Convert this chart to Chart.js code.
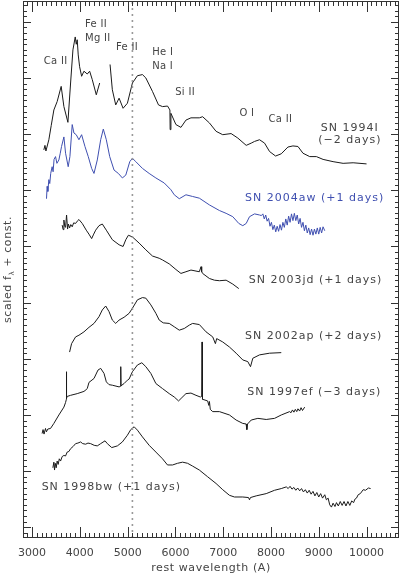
<!DOCTYPE html>
<html>
<head>
<meta charset="utf-8">
<script src="https://cdn.jsdelivr.net/npm/chart.js@4.4.0/dist/chart.umd.min.js"></script>
<style>
  html, body { margin: 0; padding: 0; background: #fff; }
  #wrap { width: 400px; height: 575px; }
</style>
</head>
<body>
<div id="wrap"><canvas id="theChart" width="400" height="575"></canvas></div>
<script>
// ---- spectra (rest wavelength in A, scaled flux + offset) ----
const sn1994iWave = [3246, 3270, 3290, 3351, 3400, 3456, 3525, 3609, 3666, 3750, 3806, 3855, 3903, 3925, 3945, 3966, 3995, 4037, 4086, 4155, 4205, 4260, 4344, 4415,
  4520,
  4632, 4680, 4751, 4821, 4905, 4995, 5100, 5205, 5310, 5381, 5520, 5646, 5730, 5835, 5885, 5890, 5906, 6011, 6116, 6221, 6326, 6501, 6570, 6711, 6851, 6990,
  7166, 7306, 7482, 7587, 7656, 7761, 7866, 7971, 8097, 8216, 8355, 8460, 8565, 8670, 8811, 8951, 9091, 9300, 9510, 9720, 10001];
const sn1994iFlux = [6.72, 6.80, 6.70, 6.90, 7.15, 7.43, 7.58, 7.85, 7.49, 7.21, 7.91, 8.50, 8.73, 8.60, 8.68, 8.41, 8.20, 8.03, 8.12, 8.07, 8.12, 7.97, 7.70, 7.91,
  null,
  8.24, 7.79, 7.52, 7.64, 7.46, 7.55, 7.91, 8.04, 8.06, 8.00, 7.76, 7.52, 7.49, 7.50, 7.43, 7.08, 7.37, 7.17, 7.12, 7.25, 7.29, 7.29, 7.31, 7.20, 7.05, 6.99,
  7.01, 6.93, 6.80, 6.84, 6.87, 6.90, 6.84, 6.69, 6.61, 6.65, 6.77, 6.79, 6.78, 6.66, 6.60, 6.60, 6.55, 6.51, 6.48, 6.49, 6.47];

const sn2004awWave = [3302, 3315, 3330, 3351, 3370, 3390, 3420, 3440, 3460, 3491, 3520, 3561, 3590, 3617, 3666, 3701, 3756, 3792, 3840, 3876, 3924, 3981, 4037,
  4107, 4176, 4247, 4296, 4365, 4436, 4491, 4554, 4625, 4716, 4806, 4890, 4961, 5045, 5100, 5171, 5310, 5451, 5591, 5766, 5906, 5976, 6081, 6221, 6360, 6501,
  6711, 6921, 7061, 7201, 7327, 7410, 7482, 7551, 7656, 7761, 7800,
  7830, 7860, 7890, 7920, 7950, 7980, 8010, 8040, 8070, 8100, 8130, 8160, 8190, 8220, 8250, 8280, 8310, 8340, 8370, 8400, 8430, 8460, 8490, 8520, 8550,
  8580, 8610, 8640, 8670, 8700, 8730, 8760, 8790, 8820, 8850, 8880, 8910, 8940, 8970, 9000, 9030, 9060, 9090, 9126];
const sn2004awFlux = [5.85, 6.07, 5.98, 6.19, 6.12, 6.30, 6.42, 6.33, 6.55, 6.60, 6.48, 6.54, 6.66, 6.78, 6.95, 6.66, 6.42, 6.60, 7.17, 7.02, 6.99, 6.90, 6.99,
  6.78, 6.60, 6.39, 6.30, 6.54, 6.90, 7.09, 6.90, 6.60, 6.36, 6.30, 6.22, 6.27, 6.51, 6.57, 6.51, 6.39, 6.30, 6.22, 6.13, 6.01, 5.92, 5.85, 5.92, 5.89, 5.86,
  5.74, 5.64, 5.59, 5.53, 5.41, 5.37, 5.41, 5.53, 5.58, 5.56, 5.55,
  5.58, 5.49, 5.56, 5.45, 5.50, 5.36, 5.43, 5.30, 5.38, 5.26, 5.36, 5.27, 5.39, 5.29, 5.43, 5.34, 5.49, 5.38, 5.54, 5.43, 5.58, 5.46, 5.59, 5.46, 5.56,
  5.40, 5.50, 5.34, 5.43, 5.28, 5.38, 5.24, 5.33, 5.21, 5.31, 5.20, 5.31, 5.22, 5.33, 5.22, 5.34, 5.24, 5.35, 5.28];

const sn2003jdWave = [3630, 3650, 3666, 3685, 3701, 3722, 3743, 3760, 3785, 3810, 3840, 3870, 3911, 3945, 3981, 4050, 4134, 4190, 4247, 4290, 4331, 4401, 4470,
  4554, 4680, 4821, 4905, 4961, 5016, 5100, 5241, 5381, 5520, 5661, 5730, 5871, 6011, 6116, 6221, 6326, 6501, 6536, 6550, 6570, 6711, 6816, 6921, 7061, 7201, 7327];
const sn2003jdFlux = [5.38, 5.30, 5.47, 5.36, 5.34, 5.56, 5.31, 5.40, 5.33, 5.39, 5.35, 5.42, 5.41, 5.45, 5.48, 5.41, 5.29, 5.22, 5.14, 5.22, 5.29, 5.37, 5.40,
  5.29, 5.12, 5.03, 5.00, 5.12, 5.20, 5.17, 5.06, 4.94, 4.83, 4.79, 4.76, 4.69, 4.59, 4.52, 4.55, 4.58, 4.55, 4.64, 4.55, 4.52, 4.43, 4.40, 4.39, 4.40, 4.33, 4.25];

const sn2002apWave = [3785, 3827, 3911, 3981, 4086, 4191, 4296, 4401, 4470, 4541, 4611, 4680, 4751, 4821, 4926, 5031, 5100, 5205, 5310, 5381, 5486, 5591, 5661,
  5745, 5871, 5976, 6081, 6186, 6291, 6360, 6501, 6641, 6781, 6837, 6864, 6990, 7131, 7271, 7410, 7515, 7572, 7620, 7761, 7971, 8216];
const sn2002apFlux = [3.12, 3.27, 3.39, 3.42, 3.48, 3.56, 3.63, 3.75, 3.87, 3.94, 3.84, 3.69, 3.63, 3.69, 3.74, 3.81, 3.90, 4.05, 4.09, 4.08, 3.96, 3.81, 3.69,
  3.64, 3.63, 3.57, 3.51, 3.54, 3.60, 3.63, 3.61, 3.48, 3.39, 3.27, 3.36, 3.30, 3.21, 3.10, 2.98, 2.95, 2.86, 3.01, 3.07, 3.10, 3.11];

const sn1997efWave = [3210, 3230, 3250, 3281, 3300, 3330, 3386, 3456, 3561, 3666, 3700, 3718, 3720, 3722, 3735, 3806, 3945, 4086, 4130, 4155, 4191, 4296, 4380,
  4436, 4506, 4554, 4611, 4680, 4821, 4850, 4856, 4862, 4926, 4995, 5031, 5100, 5205, 5297, 5381, 5486, 5591, 5730, 5871, 5976, 6066, 6137, 6221, 6326, 6431,
  6522, 6550, 6557, 6564, 6570, 6675, 6700, 6712, 6730, 6781, 6921, 7131, 7271, 7410, 7480, 7495, 7510, 7587, 7726, 7901, 8076, 8216, 8391,
  8420, 8450, 8480, 8510, 8540, 8565, 8600, 8630, 8660, 8706];
const sn1997efFlux = [1.67, 1.74, 1.66, 1.76, 1.70, 1.75, 1.76, 1.85, 2.00, 2.14, 2.22, 2.28, 2.77, 2.30, 2.33, 2.35, 2.38, 2.42, 2.45, 2.47, 2.58, 2.65, 2.80,
  2.83, 2.74, 2.59, 2.54, 2.53, 2.50, 2.51, 2.86, 2.52, 2.56, 2.62, 2.64, 2.77, 2.89, 2.93, 2.86, 2.74, 2.56, 2.47, 2.38, 2.32, 2.25, 2.31, 2.38, 2.39, 2.35,
  2.32, 2.33, 3.30, 2.30, 2.28, 2.25, 2.17, 2.24, 2.10, 2.06, 2.06, 2.00, 1.91, 1.85, 1.84, 1.74, 1.84, 1.91, 1.94, 1.92, 1.94, 2.00, 2.06,
  2.04, 2.09, 2.05, 2.10, 2.06, 2.11, 2.07, 2.13, 2.08, 2.14];

const sn1998bwWave = [3435, 3456, 3470, 3485, 3505, 3525, 3546, 3570, 3596, 3630, 3666, 3700, 3735, 3770, 3806, 3860, 3911, 3960, 4016, 4060, 4121, 4170, 4226,
  4300, 4365, 4436, 4527, 4575, 4667, 4786, 4890, 4995, 5066, 5136, 5205, 5310, 5451, 5591, 5730, 5835, 5940, 6045, 6150, 6255, 6360, 6501, 6675, 6851, 6990,
  7131, 7236, 7410, 7530, 7551, 7570, 7691, 7901, 8076, 8216,
  8321, 8360, 8400, 8440, 8480, 8520, 8560, 8601, 8640, 8680, 8720, 8760, 8800, 8840, 8880, 8920, 8960, 9000, 9040, 9080, 9126, 9160, 9196, 9230, 9266, 9300,
  9340, 9371, 9410, 9450, 9490, 9530, 9570, 9610, 9651, 9690, 9730, 9756, 9790, 9826, 9870, 9931, 9980, 10040, 10086];
const sn1998bwFlux = [1.06, 1.16, 1.02, 1.14, 1.06, 1.18, 1.12, 1.22, 1.18, 1.26, 1.28, 1.27, 1.34, 1.35, 1.40, 1.44, 1.49, 1.50, 1.52, 1.49, 1.48, 1.50, 1.49,
  1.46, 1.45, 1.49, 1.54, 1.49, 1.42, 1.45, 1.52, 1.64, 1.74, 1.79, 1.73, 1.61, 1.46, 1.34, 1.22, 1.11, 1.11, 1.14, 1.16, 1.14, 1.09, 1.02, 0.90, 0.78, 0.67,
  0.57, 0.54, 0.54, 0.53, 0.49, 0.53, 0.56, 0.60, 0.66, 0.69,
  0.72, 0.69, 0.73, 0.68, 0.71, 0.66, 0.70, 0.65, 0.69, 0.63, 0.67, 0.61, 0.66, 0.59, 0.64, 0.56, 0.62, 0.54, 0.60, 0.52, 0.58, 0.49, 0.52, 0.40, 0.36, 0.43,
  0.37, 0.44, 0.38, 0.46, 0.39, 0.46, 0.38, 0.46, 0.39, 0.47, 0.44, 0.50, 0.52, 0.58, 0.60, 0.67, 0.66, 0.70, 0.69];

// reference wavelength of the dotted line
const refWave = 5100;

// axis ticks
const xTickLabels = [3000, 4000, 5000, 6000, 7000, 8000, 9000, 10000];
const yMajorTicks = [0, 1, 2, 3, 4, 5, 6, 7, 8, 9];

// line identifications on the top spectrum
const lineIds = ['Ca II', 'Fe II', 'Mg II', 'Fe II', 'He I', 'Na I', 'Si II', 'O I', 'Ca II'];
const lineIdWave = [3246, 4107, 4107, 4757, 5513, 5513, 5996, 7340, 7948];
const lineIdFlux = [8.29, 8.95, 8.70, 8.54, 8.45, 8.20, 7.74, 7.36, 7.26];

// object names
const snNames = ['SN 1994I', '(\u22122 days)', 'SN 2004aw (+1 days)', 'SN 2003jd (+1 days)', 'SN 2002ap (+2 days)', 'SN 1997ef (\u22123 days)', 'SN 1998bw (+1 days)'];
const snNameWave = [9650, 9650, 10370, 10330, 10330, 10310, 3200];
const snNameFlux = [7.11, 6.90, 5.86, 4.40, 3.40, 2.41, 0.71];
const snNameAlign = ['center', 'center', 'right', 'right', 'right', 'right', 'left'];

const FONT = '"DejaVu Sans", sans-serif';
const INK = '#444';
const BLUE = '#3f4fb0';

function pts(w, f) { return w.map((x, i) => ({ x, y: f[i] })); }

function spectrum(w, f, color) {
  return {
    data: pts(w, f),
    borderColor: color,
    borderWidth: 1,
    pointRadius: 0,
    tension: 0,
    spanGaps: false,
    fill: false
  };
}

// frame, inward ticks and all text
const framePlugin = {
  id: 'frame',
  afterDraw(chart) {
    const { ctx, chartArea: a } = chart;
    const xs = chart.scales.x, ys = chart.scales.y;
    ctx.save();
    ctx.strokeStyle = '#333';
    ctx.lineWidth = 1;
    ctx.strokeRect(a.left + 0.5, a.top + 0.5, a.right - a.left - 1, a.bottom - a.top - 1);

    ctx.beginPath();
    for (let w = 2900; w <= 10600; w += 100) {
      const px = Math.round(xs.getPixelForValue(w)) + 0.5;
      const len = (w % 1000 === 0) ? 11 : 5;
      ctx.moveTo(px, a.bottom); ctx.lineTo(px, a.bottom - len);
      ctx.moveTo(px, a.top); ctx.lineTo(px, a.top + len);
    }
    for (let k = -1; k <= 93; k++) {
      const py = Math.round(ys.getPixelForValue(k / 10)) + 0.5;
      const len = (k % 10 === 0) ? 8 : 4;
      ctx.moveTo(a.left, py); ctx.lineTo(a.left + len, py);
      ctx.moveTo(a.right, py); ctx.lineTo(a.right - len, py);
    }
    ctx.stroke();

    // tick labels
    ctx.fillStyle = INK;
    ctx.font = '11px ' + FONT;
    ctx.textAlign = 'center';
    ctx.textBaseline = 'middle';
    xTickLabels.forEach(v => ctx.fillText(String(v), xs.getPixelForValue(v), a.bottom + 15));

    // axis titles
    ctx.letterSpacing = '0.6px';
    ctx.fillText('rest wavelength (A)', (a.left + a.right) / 2, a.bottom + 30);

    ctx.save();
    ctx.translate(8, (a.top + a.bottom) / 2);
    ctx.rotate(-Math.PI / 2);
    const p1 = 'scaled f', p2 = '\u03bb', p3 = ' + const.';
    ctx.font = '11px ' + FONT;
    const w1 = ctx.measureText(p1).width;
    const w3 = ctx.measureText(p3).width;
    ctx.font = '7px ' + FONT;
    const w2 = ctx.measureText(p2).width;
    let x0 = -(w1 + w2 + w3) / 2;
    ctx.textAlign = 'left';
    ctx.font = '11px ' + FONT;
    ctx.fillText(p1, x0, 0);
    ctx.font = '7px ' + FONT;
    ctx.fillText(p2, x0 + w1, 4);
    ctx.font = '11px ' + FONT;
    ctx.fillText(p3, x0 + w1 + w2, 0);
    ctx.restore();

    // line identifications
    ctx.font = '10px ' + FONT;
    ctx.letterSpacing = '0.3px';
    ctx.textAlign = 'left';
    lineIds.forEach((t, i) => ctx.fillText(t, xs.getPixelForValue(lineIdWave[i]), ys.getPixelForValue(lineIdFlux[i])));

    // object names
    ctx.font = '11px ' + FONT;
    ctx.letterSpacing = '1px';
    snNames.forEach((t, i) => {
      ctx.fillStyle = (i === 2) ? BLUE : INK;
      ctx.textAlign = snNameAlign[i];
      ctx.fillText(t, xs.getPixelForValue(snNameWave[i]), ys.getPixelForValue(snNameFlux[i]));
    });
    ctx.restore();
  }
};

const chartObj = new Chart(document.getElementById('theChart').getContext('2d'), {
  type: 'line',
  data: {
    datasets: [
      {
        data: [{ x: refWave, y: -0.19 }, { x: refWave, y: 9.37 }],
        borderColor: '#999',
        borderWidth: 1.6,
        borderDash: [2, 4],
        pointRadius: 0,
        fill: false
      },
      spectrum(sn1994iWave, sn1994iFlux, '#1a1a1a'),
      spectrum(sn2004awWave, sn2004awFlux, BLUE),
      spectrum(sn2003jdWave, sn2003jdFlux, '#1a1a1a'),
      spectrum(sn2002apWave, sn2002apFlux, '#1a1a1a'),
      spectrum(sn1997efWave, sn1997efFlux, '#1a1a1a'),
      spectrum(sn1998bwWave, sn1998bwFlux, '#1a1a1a')
    ]
  },
  options: {
    responsive: false,
    maintainAspectRatio: false,
    devicePixelRatio: 1,
    animation: false,
    layout: { padding: { left: 23, top: 1, right: 1, bottom: 37 } },
    plugins: { legend: { display: false }, tooltip: { enabled: false } },
    scales: {
      x: { type: 'linear', min: 2810, max: 10680, display: false },
      y: { type: 'linear', min: -0.19, max: 9.37, display: false }
    }
  },
  plugins: [framePlugin]
});
</script>
</body>
</html>
